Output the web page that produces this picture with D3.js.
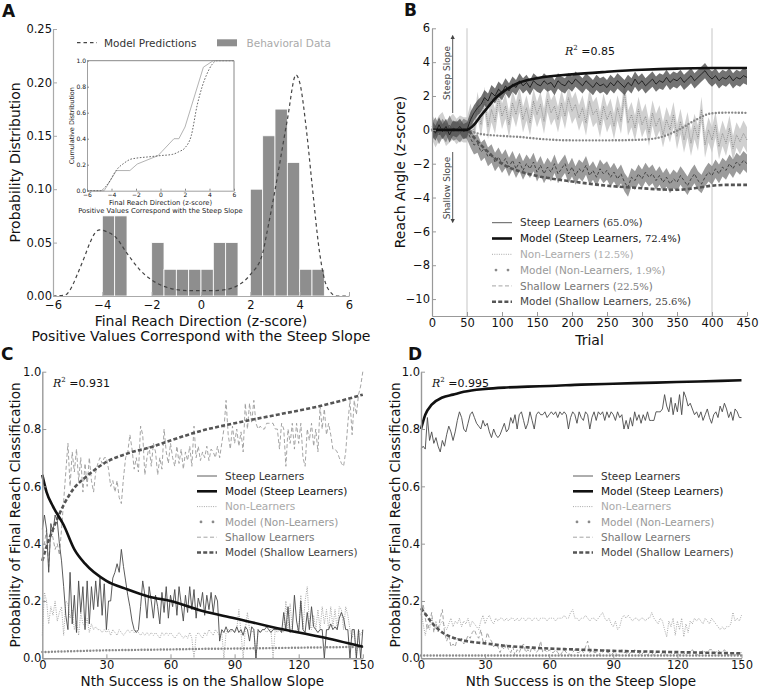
<!DOCTYPE html>
<html><head><meta charset="utf-8">
<script src="https://cdn.jsdelivr.net/npm/d3@7"></script>
<style>body{margin:0;background:#fff}svg{display:block;font-family:"DejaVu Sans",sans-serif}</style>
</head><body><svg id="c" width="759" height="689"></svg>
<script>
// ---------- Panel A data ----------
const histLeft = [-4,-3.5,-2,-1.5,-1,-0.5,0,0.5,1,2,2.5,3,3.5,4,4.5];
const histHeight = [0.075,0.075,0.05,0.025,0.025,0.025,0.025,0.05,0.05,0.1,0.15,0.175,0.125,0.025,0.025];
const histBinWidth = 0.5;
const pdfX = [-6,-5.5,-5.3,-5,-4.7,-4.5,-4.3,-4.1,-3.8,-3.5,-3,-2.5,-2,-1.5,-1,-0.5,0,0.5,1,1.5,2,2.5,2.67,3,3.5,3.85,4,4.3,4.5,4.8,5,5.2,5.5,6];
const pdfY = [0,0.001,0.006,0.021,0.038,0.05,0.059,0.062,0.06,0.056,0.04,0.025,0.015,0.009,0.006,0.005,0.005,0.005,0.006,0.01,0.02,0.04,0.059,0.099,0.165,0.207,0.2,0.15,0.105,0.042,0.016,0.005,0,0];
const cumDataX = [-6,-4.6,-3.6,-2.5,-1.9,-0.2,0.1,1.1,1.5,2.0,3.5,4.3,6];
const cumDataY = [0,0,0.155,0.155,0.205,0.27,0.3,0.4,0.4,0.49,0.95,1.0,1.0];
const cumModelX = [-6,-4.9,-4.5,-4.1,-3.8,-3.5,-3,-2.5,-2,-1,0,1,1.5,2,2.5,3,3.4,3.8,4.2,4.6,6];
const cumModelY = [0,0,0.03,0.08,0.13,0.17,0.21,0.24,0.25,0.26,0.27,0.28,0.3,0.33,0.42,0.66,0.8,0.9,0.97,1,1];

// ---------- Panel B data (trial step 5) ----------
const trialStep = 5;
const bSteep = [0.1,-0.2,0.3,-0.1,0.2,-0.3,0.1,0.0,0.2,-0.1,
0.0,
0.6,1.0,1.3,1.5,1.9,1.7,2.2,2.0,2.4,2.2,
2.6,2.3,2.7,2.5,2.9,2.6,2.8,2.5,2.9,2.7,
2.6,2.9,2.7,2.8,2.5,2.9,2.7,2.6,2.9,2.7,
3.0,2.8,2.6,2.9,2.7,2.5,2.8,2.6,2.7,2.5,
2.8,2.6,2.9,2.7,2.5,2.8,2.6,3.0,2.7,2.9,
2.6,2.8,3.0,2.7,2.9,2.8,3.1,2.8,3.0,2.9,
3.1,2.8,3.0,3.2,2.9,3.1,3.3,3.5,3.2,3.0,
3.2,2.9,3.1,3.0,3.2,2.9,3.1,3.0,3.2,3.1];
const bNon = [0.2,-0.3,0.1,0.3,-0.2,0.0,0.2,-0.1,0.1,0.0,
0.0,
0.8,-0.2,1.5,0.3,1.8,0.2,1.2,0.5,1.9,0.8,
1.4,0.3,1.6,0.9,1.8,0.6,1.3,0.4,1.7,0.9,
1.5,0.5,1.8,1.0,1.4,0.6,1.6,0.8,1.9,1.1,
1.5,0.7,1.3,0.4,1.7,0.9,1.2,0.3,1.4,0.6,
1.1,0.2,1.3,0.5,2.2,0.4,0.9,0.1,1.2,0.3,
0.8,-0.2,1.0,0.2,0.7,-0.3,0.6,0.0,0.9,-0.4,
0.5,-0.6,0.3,-0.8,0.2,-0.5,1.2,-0.9,0.0,-0.6,
0.3,-1.0,-0.2,-0.8,0.1,-1.1,-0.3,-0.7,-0.2,-0.6];
const bShallow = [-0.1,0.2,-0.3,0.1,-0.2,0.3,-0.1,0.0,-0.2,0.1,
0.0,
-0.5,-0.9,-0.8,-1.3,-1.1,-1.6,-1.4,-1.9,-1.6,-2.0,
-1.7,-2.2,-1.8,-2.3,-1.9,-2.4,-2.0,-2.3,-1.9,-2.5,
-2.1,-2.6,-2.2,-2.5,-2.0,-2.6,-2.3,-2.0,-2.6,-2.2,
-2.7,-2.3,-2.5,-2.1,-2.7,-2.4,-2.8,-2.3,-2.6,-2.4,
-2.8,-2.5,-2.9,-2.6,-3.1,-3.4,-2.8,-3.0,-2.6,-2.9,
-2.5,-2.8,-2.6,-3.0,-2.7,-3.1,-2.8,-3.2,-2.9,-3.1,
-2.7,-3.0,-3.3,-2.9,-2.6,-3.0,-3.2,-2.8,-2.5,-2.7,
-2.3,-2.6,-2.2,-2.4,-2.0,-2.3,-1.9,-2.1,-1.8,-2.0];
const bBandHalf = [0.45, 0.75, 0.55]; // steep, non, shallow
const bModelT = [0,50,60,70,80,90,100,125,150,200,250,300,325,350,375,400,425,450];
const bModelSteep = [0,0,0.3,0.85,1.35,1.85,2.2,2.8,3.05,3.28,3.43,3.55,3.59,3.62,3.64,3.65,3.65,3.65];
const bModelNon = [0,0,-0.15,-0.25,-0.3,-0.33,-0.36,-0.42,-0.52,-0.62,-0.62,-0.58,-0.45,-0.05,0.55,0.98,1.02,1.0];
const bModelShallow = [0,0,-0.45,-0.9,-1.3,-1.7,-2.0,-2.45,-2.72,-3.05,-3.3,-3.45,-3.52,-3.54,-3.45,-3.3,-3.25,-3.25];

// ---------- Panel C data (n = 0..150) ----------
const cSteep = [0.45,0.50,0.45,0.30,0.47,0.44,0.50,0.48,0.40,0.34,
0.25,0.15,0.10,0.30,0.12,0.22,0.09,0.27,0.16,0.25,
0.10,0.27,0.12,0.25,0.17,0.27,0.18,0.28,0.15,0.26,
0.10,0.20,0.20,0.28,0.30,0.33,0.30,0.38,0.32,0.27,
0.22,0.18,0.13,0.10,0.09,0.10,0.18,0.27,0.22,0.14,
0.25,0.20,0.14,0.22,0.18,0.12,0.23,0.16,0.25,0.14,
0.22,0.18,0.24,0.15,0.25,0.19,0.13,0.22,0.16,0.25,
0.17,0.24,0.14,0.21,0.18,0.23,0.15,0.22,0.17,0.23,
0.16,0.22,0.20,0.06,0.10,0.09,0.11,0.09,0.10,0.10,
0.09,0.11,0.09,0.10,0.08,0.11,0.10,0.06,0.11,0.10,
0.00,0.10,0.09,0.10,0.10,0.11,0.10,0.09,0.10,0.10,
0.10,0.10,0.09,0.16,0.10,0.18,0.09,0.10,0.22,0.13,
0.09,0.20,0.10,0.09,0.16,0.10,0.18,0.11,0.10,0.09,
0.10,0.10,0.00,0.10,0.10,0.12,0.10,0.11,0.10,0.14,
0.16,0.14,0.10,0.10,0.00,0.10,0.10,0.00,0.10,0.00,
0.10];
const cNon = [0.08,0.23,0.20,0.12,0.18,0.15,0.20,0.13,0.16,0.18,
0.08,0.20,0.19,0.14,0.17,0.10,0.13,0.08,0.16,0.12,
0.11,0.14,0.09,0.12,0.10,0.11,0.10,0.10,0.09,0.10,
0.09,0.10,0.08,0.10,0.09,0.08,0.10,0.09,0.08,0.09,
0.10,0.09,0.10,0.09,0.10,0.09,0.08,0.09,0.08,0.09,
0.08,0.09,0.08,0.09,0.08,0.07,0.09,0.08,0.09,0.08,
0.09,0.08,0.07,0.08,0.09,0.08,0.07,0.08,0.07,0.09,
0.07,0.00,0.08,0.09,0.08,0.07,0.09,0.08,0.10,0.09,
0.08,0.10,0.09,0.08,0.09,0.00,0.09,0.10,0.09,0.10,
0.09,0.10,0.17,0.09,0.00,0.10,0.16,0.10,0.09,0.10,
0.00,0.10,0.09,0.10,0.10,0.09,0.10,0.10,0.00,0.10,
0.09,0.10,0.10,0.09,0.20,0.10,0.19,0.10,0.09,0.10,
0.10,0.22,0.10,0.20,0.25,0.12,0.10,0.15,0.10,0.17,
0.10,0.18,0.12,0.17,0.10,0.18,0.11,0.17,0.10,0.18,
0.17,0.10,0.18,0.15,0.10,0.07,0.10,0.00,0.10,0.08,
0.10];
const cShallow = [0.35,0.40,0.45,0.32,0.45,0.42,0.38,0.40,0.36,0.45,
0.55,0.65,0.75,0.60,0.72,0.65,0.73,0.62,0.70,0.58,
0.68,0.60,0.70,0.62,0.58,0.65,0.68,0.70,0.68,0.70,
0.70,0.66,0.60,0.62,0.58,0.62,0.56,0.54,0.63,0.70,
0.72,0.78,0.73,0.66,0.70,0.65,0.81,0.78,0.64,0.70,
0.74,0.67,0.75,0.72,0.64,0.70,0.66,0.80,0.72,0.68,
0.75,0.70,0.67,0.74,0.68,0.73,0.66,0.72,0.69,0.74,
0.67,0.81,0.70,0.74,0.69,0.72,0.70,0.74,0.69,0.73,
0.72,0.70,0.74,0.70,0.75,0.80,0.90,0.78,0.73,0.81,
0.75,0.80,0.74,0.79,0.72,0.89,0.80,0.89,0.82,0.90,
0.82,0.80,0.81,0.80,0.80,0.82,0.82,0.82,0.82,0.80,
0.80,0.73,0.82,0.80,0.67,0.80,0.75,0.82,0.73,0.82,
0.75,0.82,0.70,0.67,0.80,0.76,0.82,0.74,0.80,0.72,
0.88,0.80,0.87,0.78,0.82,0.78,0.73,0.73,0.72,0.70,
0.68,0.67,0.72,0.82,0.90,0.78,0.90,0.85,0.92,0.95,
1.00];
const modelN = [0,2,5,10,15,20,30,40,50,60,75,90,110,130,150];
const cModelSteep = [0.64,0.58,0.53,0.465,0.38,0.33,0.27,0.24,0.215,0.2,0.165,0.14,0.105,0.075,0.04];
const cModelNon = [0.022,0.022,0.023,0.024,0.025,0.026,0.028,0.029,0.030,0.031,0.033,0.034,0.036,0.038,0.04];
const cModelShallow = [0.34,0.39,0.45,0.535,0.595,0.63,0.685,0.715,0.735,0.76,0.795,0.82,0.85,0.88,0.92];

// ---------- Panel D data (n = 0..150) ----------
const dSteep = [0.73,0.74,0.73,0.84,0.76,0.79,0.75,0.77,0.74,0.72,
0.76,0.74,0.78,0.81,0.79,0.76,0.79,0.83,0.86,0.84,
0.80,0.79,0.82,0.85,0.86,0.84,0.82,0.81,0.80,0.83,
0.81,0.82,0.79,0.77,0.80,0.78,0.77,0.78,0.80,0.82,
0.79,0.80,0.84,0.82,0.85,0.80,0.85,0.86,0.83,0.80,
0.82,0.86,0.83,0.80,0.85,0.86,0.85,0.85,0.86,0.84,
0.85,0.86,0.85,0.86,0.84,0.86,0.85,0.86,0.85,0.80,
0.84,0.86,0.85,0.82,0.86,0.84,0.83,0.86,0.85,0.80,
0.84,0.86,0.83,0.86,0.85,0.86,0.83,0.86,0.84,0.86,
0.85,0.83,0.86,0.84,0.85,0.80,0.83,0.80,0.84,0.81,
0.86,0.83,0.85,0.82,0.85,0.83,0.86,0.83,0.83,0.83,
0.86,0.86,0.86,0.87,0.92,0.88,0.86,0.91,0.85,0.89,
0.86,0.92,0.85,0.93,0.91,0.88,0.89,0.87,0.85,0.86,
0.84,0.86,0.83,0.85,0.87,0.84,0.82,0.85,0.86,0.84,
0.88,0.86,0.89,0.87,0.84,0.86,0.83,0.87,0.86,0.84,
0.84];
const dNon = [0.17,0.12,0.08,0.12,0.10,0.14,0.11,0.13,0.09,0.12,
0.13,0.11,0.10,0.12,0.14,0.11,0.13,0.12,0.14,0.11,
0.13,0.12,0.14,0.11,0.13,0.12,0.11,0.10,0.13,0.15,
0.12,0.14,0.15,0.13,0.12,0.14,0.13,0.14,0.14,0.13,
0.14,0.13,0.14,0.14,0.13,0.14,0.13,0.14,0.14,0.13,
0.14,0.14,0.13,0.14,0.14,0.13,0.14,0.14,0.14,0.13,
0.14,0.14,0.14,0.13,0.14,0.14,0.14,0.15,0.14,0.14,
0.16,0.17,0.14,0.14,0.13,0.14,0.14,0.15,0.14,0.13,
0.14,0.14,0.13,0.14,0.15,0.16,0.14,0.13,0.14,0.12,
0.11,0.13,0.10,0.11,0.14,0.15,0.14,0.15,0.14,0.13,
0.14,0.14,0.13,0.14,0.14,0.13,0.14,0.14,0.16,0.14,
0.13,0.12,0.14,0.13,0.10,0.075,0.13,0.11,0.14,0.08,
0.13,0.10,0.14,0.075,0.12,0.09,0.13,0.12,0.14,0.13,
0.14,0.13,0.12,0.14,0.13,0.12,0.14,0.13,0.12,0.11,
0.10,0.11,0.10,0.11,0.11,0.12,0.16,0.13,0.14,0.13,
0.15];
const dShallow = [0.15,0.19,0.14,0.10,0.12,0.16,0.09,0.12,0.10,0.14,
0.17,0.09,0.06,0.08,0.04,0.05,0.04,0.07,0.06,0.07,
0.05,0.06,0.08,0.07,0.09,0.10,0.08,0.07,0.10,0.06,
0.05,0.09,0.07,0.06,0.04,0.05,0.04,0.02,0.04,0.03,
0.05,0.03,0.02,0.04,0.01,0.03,0.02,0.04,0.05,0.02,
0.03,0.02,0.04,0.03,0.02,0.03,0.06,0.02,0.03,0.02,
0.03,0.02,0.02,0.03,0.02,0.01,0.02,0.03,0.02,0.02,
0.01,0.02,0.03,0.02,0.02,0.03,0.02,0.04,0.06,0.02,
0.03,0.02,0.02,0.01,0.02,0.02,0.03,0.02,0.02,0.01,
0.02,0.02,0.01,0.02,0.03,0.02,0.02,0.01,0.02,0.02,
0.03,0.02,0.02,0.01,0.02,0.02,0.01,0.02,0.02,0.01,
0.02,0.02,0.01,0.02,0.02,0.01,0.02,0.02,0.01,0.02,
0.02,0.01,0.02,0.02,0.01,0.02,0.02,0.03,0.02,0.01,
0.02,0.02,0.03,0.02,0.02,0.03,0.03,0.02,0.02,0.03,
0.02,0.02,0.03,0.02,0.01,0.02,0.02,0.01,0.02,0.02,
0.02];
const dModelSteep = [0.80,0.85,0.885,0.91,0.92,0.93,0.94,0.945,0.948,0.95,0.955,0.958,0.962,0.966,0.97];
const dModelNon = [0.01,0.01,0.01,0.01,0.01,0.01,0.01,0.01,0.01,0.01,0.01,0.01,0.01,0.01,0.01];
const dModelShallow = [0.175,0.155,0.125,0.09,0.072,0.062,0.052,0.043,0.038,0.034,0.03,0.026,0.023,0.02,0.017];

// ---------- labels ----------
const legendCD = ["Steep Learners","Model (Steep Learners)","Non-Learners","Model (Non-Learners)","Shallow Learners","Model (Shallow Learners)"];
const legendB = [["Steep Learners (","65.0%",")"],["Model (Steep Learners, ","72.4%",")"],["Non-Learners (","12.5%",")"],["Model (Non-Learners, ","1.9%",")"],["Shallow Learners (","22.5%",")"],["Model (Shallow Learners, ","25.6%",")"]];

// ---------- styles ----------
const SANS = '"DejaVu Sans", sans-serif', SERIF = '"DejaVu Serif", serif';
const styles = [
  {stroke:"#4a4a4a", w:0.9, dash:null, text:"#333"},
  {stroke:"#111", w:2.6, dash:null, text:"#111"},
  {stroke:"#a8a8a8", w:1, dash:"1,1.3", text:"#aaa"},
  {stroke:"#8a8a8a", w:2.4, dash:"0,3.2", cap:"round", text:"#999", dots:true},
  {stroke:"#9a9a9a", w:0.9, dash:"4,2.5", text:"#777"},
  {stroke:"#555", w:2.6, dash:"4,2.2", text:"#444"}
];

const svg = d3.select("#c");
svg.append("rect").attr("width",759).attr("height",689).attr("fill","#fff");

function styleLine(sel, s){
  sel.attr("fill","none").attr("stroke",s.stroke).attr("stroke-width",s.w);
  if (s.dash) sel.attr("stroke-dasharray", s.dash);
  if (s.cap) sel.attr("stroke-linecap", s.cap);
  return sel;
}
function drawAxes(x, y, xt, yt, xf, yf, fs, opts={}){
  const col = opts.col || "#999";
  const gx = svg.append("g").attr("transform",`translate(0,${y.range()[0]})`)
    .call(d3.axisBottom(x).tickValues(xt).tickFormat(xf).tickSizeInner(-(opts.tick||4)).tickSizeOuter(0).tickPadding(opts.padX||4));
  const gy = svg.append("g").attr("transform",`translate(${x.range()[0]},0)`)
    .call(d3.axisLeft(y).tickValues(yt).tickFormat(yf).tickSizeInner(-(opts.tick||4)).tickSizeOuter(0).tickPadding(opts.padY||2));
  [gx,gy].forEach(g=>{
    g.select(".domain").attr("stroke",col).attr("stroke-width",opts.sw||1.2);
    g.selectAll(".tick line").attr("stroke",col);
    g.selectAll("text").attr("font-family",SANS).attr("font-size",fs).attr("fill","#111");
  });
  if (opts.box){
    svg.append("line").attr("x1",x.range()[0]).attr("x2",x.range()[1]).attr("y1",y.range()[1]).attr("y2",y.range()[1]).attr("stroke",col);
    svg.append("line").attr("x1",x.range()[1]).attr("x2",x.range()[1]).attr("y1",y.range()[0]).attr("y2",y.range()[1]).attr("stroke",col);
  }
}
function text(x,y,t,fs,o={}){
  const el = svg.append("text").attr("x",x).attr("y",y).attr("font-size",fs)
    .attr("font-family",o.ff||SANS).attr("fill",o.fill||"#111").attr("text-anchor",o.anchor||"start");
  if (o.weight) el.attr("font-weight",o.weight);
  if (o.rot) el.attr("transform",`rotate(${o.rot},${x},${y})`);
  el.text(t);
  return el;
}
function rsq(x,y,val){
  const t = svg.append("text").attr("x",x).attr("y",y).attr("font-size",11).attr("fill","#111");
  t.append("tspan").attr("font-family",SERIF).attr("font-style","italic").text("R");
  t.append("tspan").attr("font-family",SERIF).attr("font-size",7).attr("dy",-5).text("2");
  t.append("tspan").attr("font-family",SERIF).attr("dy",5).text(" =");
  t.append("tspan").attr("font-family",SANS).text(val);
}
function legend(x0, y0, dy, labels, fs){
  labels.forEach((lab,i)=>{
    const s = styles[i], y = y0 + i*dy;
    if (s.dots){
      [x0+4, x0+16].forEach(cx=>svg.append("circle").attr("cx",cx).attr("cy",y).attr("r",1.4).attr("fill",s.stroke));
    } else {
      styleLine(svg.append("line").attr("x1",x0).attr("x2",x0+20).attr("y1",y).attr("y2",y), s);
    }
    const t = svg.append("text").attr("x",x0+28).attr("y",y).attr("dy","0.35em").attr("font-size",fs)
      .attr("font-family",SANS).attr("fill",s.text);
    if (Array.isArray(lab)){
      t.append("tspan").text(lab[0]);
      t.append("tspan").attr("font-family",SERIF).attr("font-size",fs-0.5).text(lab[1]);
      t.append("tspan").text(lab[2]);
    } else t.text(lab);
  });
}

// ================= Panel A =================
{
  const x = d3.scaleLinear([-6,6],[53,349]);
  const y = d3.scaleLinear([0,0.25],[296,29]);
  svg.append("g").selectAll("rect").data(histLeft).join("rect")
    .attr("x",d=>x(d)).attr("width",d=>x(d+histBinWidth)-x(d))
    .attr("y",(d,i)=>y(histHeight[i])).attr("height",(d,i)=>y(0)-y(histHeight[i]))
    .attr("fill","#8e8e8e").attr("stroke","#fff").attr("stroke-width",0.8);
  const line = d3.line().x(d=>x(d[0])).y(d=>y(d[1])).curve(d3.curveMonotoneX);
  svg.append("path").attr("d",line(pdfX.map((v,i)=>[v,pdfY[i]])))
    .attr("fill","none").attr("stroke","#444").attr("stroke-width",1.2).attr("stroke-dasharray","3.5,3");
  drawAxes(x,y,d3.range(-6,7,2),[0,0.05,0.1,0.15,0.2,0.25],d3.format("d"),d3.format(".2f"),11.5,{padX:4.5,padY:1,col:"#aaa"});
  // legend
  svg.append("line").attr("x1",77).attr("x2",97).attr("y1",42.7).attr("y2",42.7).attr("stroke","#444").attr("stroke-width",1.2).attr("stroke-dasharray","3.5,3");
  text(104,46.5,"Model Predictions",10.5,{fill:"#333"});
  svg.append("rect").attr("x",217).attr("y",39.3).attr("width",20).attr("height",7).attr("fill","#8e8e8e");
  text(246.5,46.5,"Behavioral Data",10.5,{fill:"#aaa"});
  // inset
  const xi = d3.scaleLinear([-6,6],[87,234]);
  const yi = d3.scaleLinear([0,1],[190.7,60.7]);
  svg.append("rect").attr("x",87).attr("y",60.7).attr("width",147).attr("height",130).attr("fill","#fff");
  const li = d3.line().x(d=>xi(d[0])).y(d=>yi(d[1]));
  svg.append("path").attr("d",li(cumDataX.map((v,i)=>[v,cumDataY[i]]))).attr("fill","none").attr("stroke","#aaa").attr("stroke-width",0.9);
  svg.append("path").attr("d",li.curve(d3.curveMonotoneX)(cumModelX.map((v,i)=>[v,cumModelY[i]]))).attr("fill","none").attr("stroke","#555").attr("stroke-width",0.9).attr("stroke-dasharray","1.6,1.6");
  drawAxes(xi,yi,d3.range(-6,7,2),[0,0.2,0.4,0.6,0.8,1.0],d3.format("d"),d3.format(".1f"),6,{tick:2,padX:2.5,padY:1,box:true,sw:0.8,col:"#888"});
  text(160.5,205,"Final Reach Direction (z-score)",6.8,{anchor:"middle",fill:"#222"});
  text(160.5,213,"Positive Values Correspond with the Steep Slope",6.8,{anchor:"middle",fill:"#222"});
  text(74,125.7,"Cumulative Distribution",6.5,{anchor:"middle",rot:-90,fill:"#222"});
  // labels
  text(201,325.5,"Final Reach Direction (z-score)",14,{anchor:"middle"});
  text(201,341,"Positive Values Correspond with the Steep Slope",14,{anchor:"middle"});
  text(20,162.5,"Probability Distribution",14,{anchor:"middle",rot:-90});
  text(2,17,"A",17,{weight:"bold"});
}

// ================= Panel B =================
{
  const x = d3.scaleLinear([0,450],[432,747]);
  const y = d3.scaleLinear([-11,6],[316,28.3]);
  [50,400].forEach(t=>svg.append("line").attr("x1",x(t)).attr("x2",x(t)).attr("y1",y(6)).attr("y2",y(-11)).attr("stroke","#d8d8d8").attr("stroke-width",1.5));
  const pts = arr => arr.map((v,i)=>[i*trialStep, v]);
  const area = h => d3.area().x(d=>x(d[0])).y0(d=>y(d[1]-h)).y1(d=>y(d[1]+h));
  const line = d3.line().x(d=>x(d[0])).y(d=>y(d[1]));
  // non-learners
  svg.append("path").attr("d",area(bBandHalf[1])(pts(bNon))).attr("fill","#c4c4c4").attr("opacity",0.8);
  svg.append("path").attr("d",line(pts(bNon))).attr("fill","none").attr("stroke","#888").attr("stroke-width",0.9).attr("stroke-dasharray","1,1");
  // shallow
  svg.append("path").attr("d",area(bBandHalf[2])(pts(bShallow))).attr("fill","#7a7a7a").attr("opacity",0.75);
  svg.append("path").attr("d",line(pts(bShallow))).attr("fill","none").attr("stroke","#3a3a3a").attr("stroke-width",0.9).attr("stroke-dasharray","3,2");
  // steep
  svg.append("path").attr("d",area(bBandHalf[0])(pts(bSteep))).attr("fill","#505050").attr("opacity",0.8);
  svg.append("path").attr("d",line(pts(bSteep))).attr("fill","none").attr("stroke","#1a1a1a").attr("stroke-width",0.9);
  // models
  const ml = d3.line().x(d=>x(d[0])).y(d=>y(d[1])).curve(d3.curveMonotoneX);
  const mp = arr => bModelT.map((t,i)=>[t,arr[i]]);
  styleLine(svg.append("path").attr("d",ml(mp(bModelNon))), {stroke:"#888",w:2.4,dash:"0,3.3",cap:"round"});
  styleLine(svg.append("path").attr("d",ml(mp(bModelShallow))), styles[5]);
  styleLine(svg.append("path").attr("d",ml(mp(bModelSteep))), styles[1]);
  drawAxes(x,y,d3.range(0,451,50),d3.range(-10,7,2),d3.format("d"),d3.format("d"),11.5,{padX:3,padY:2,col:"#999"});
  // slope annotations
  svg.append("defs").html('<marker id="ah" viewBox="0 0 10 10" refX="5" refY="5" markerWidth="5" markerHeight="7" orient="auto-start-reverse"><path d="M0,0 L10,5 L0,10 z" fill="#444"/></marker>');
  svg.append("line").attr("x1",452.7).attr("x2",452.7).attr("y1",113).attr("y2",37).attr("stroke","#444").attr("stroke-width",0.9).attr("marker-end","url(#ah)");
  svg.append("line").attr("x1",452.7).attr("x2",452.7).attr("y1",152).attr("y2",221).attr("stroke","#444").attr("stroke-width",0.9).attr("marker-end","url(#ah)");
  text(449.5,73,"Steep Slope",9,{anchor:"middle",rot:-90,fill:"#444"});
  text(449.5,188,"Shallow Slope",9,{anchor:"middle",rot:-90,fill:"#444"});
  rsq(565,55,"0.85");
  legend(492,222.7,15.8,legendB,10.5);
  text(589.5,345,"Trial",14,{anchor:"middle"});
  text(405,172,"Reach Angle (z-score)",14,{anchor:"middle",rot:-90});
  text(404,16,"B",17,{weight:"bold"});
}

// ================= Panels C and D =================
function panelCD(x0, label, letter, lx, series, models, r2, r2x, legx, ylabx){
  const x = d3.scaleLinear([0,150],[x0, x0+320.5]);
  const y = d3.scaleLinear([0,1],[658.3,371.7]);
  const line = d3.line().x((d,i)=>x(i)).y(d=>y(d));
  const ml = d3.line().x(d=>x(d[0])).y(d=>y(d[1])).curve(d3.curveMonotoneX);
  const mp = arr => modelN.map((n,i)=>[n,arr[i]]);
  // noisy data: non, shallow, steep
  styleLine(svg.append("path").attr("d",line(series[1])), styles[2]);
  styleLine(svg.append("path").attr("d",line(series[2])), styles[4]);
  styleLine(svg.append("path").attr("d",line(series[0])), styles[0]);
  styleLine(svg.append("path").attr("d",ml(mp(models[1]))), styles[3]);
  styleLine(svg.append("path").attr("d",ml(mp(models[2]))), styles[5]);
  styleLine(svg.append("path").attr("d",ml(mp(models[0]))), styles[1]);
  drawAxes(x,y,d3.range(0,151,30),[0,0.2,0.4,0.6,0.8,1.0],d3.format("d"),d3.format(".1f"),11.5,{padX:2.5,padY:1,col:"#999",sw:1.4});
  rsq(r2x,386.5,r2);
  legend(legx,476,15.3,legendCD,10.5);
  text(x0+160,686,label,13.5,{anchor:"middle"});
  text(ylabx,515,"Probability of Final Reach Classification",13.6,{anchor:"middle",rot:-90});
  text(lx,360,letter,17,{weight:"bold"});
}
panelCD(42.3,"Nth Success is on the Shallow Slope","C",1,[cSteep,cNon,cShallow],[cModelSteep,cModelNon,cModelShallow],"0.931",53,197,20);
panelCD(421,"Nth Success is on the Steep Slope","D",408,[dSteep,dNon,dShallow],[dModelSteep,dModelNon,dModelShallow],"0.995",432,573,400);
</script></body></html>
